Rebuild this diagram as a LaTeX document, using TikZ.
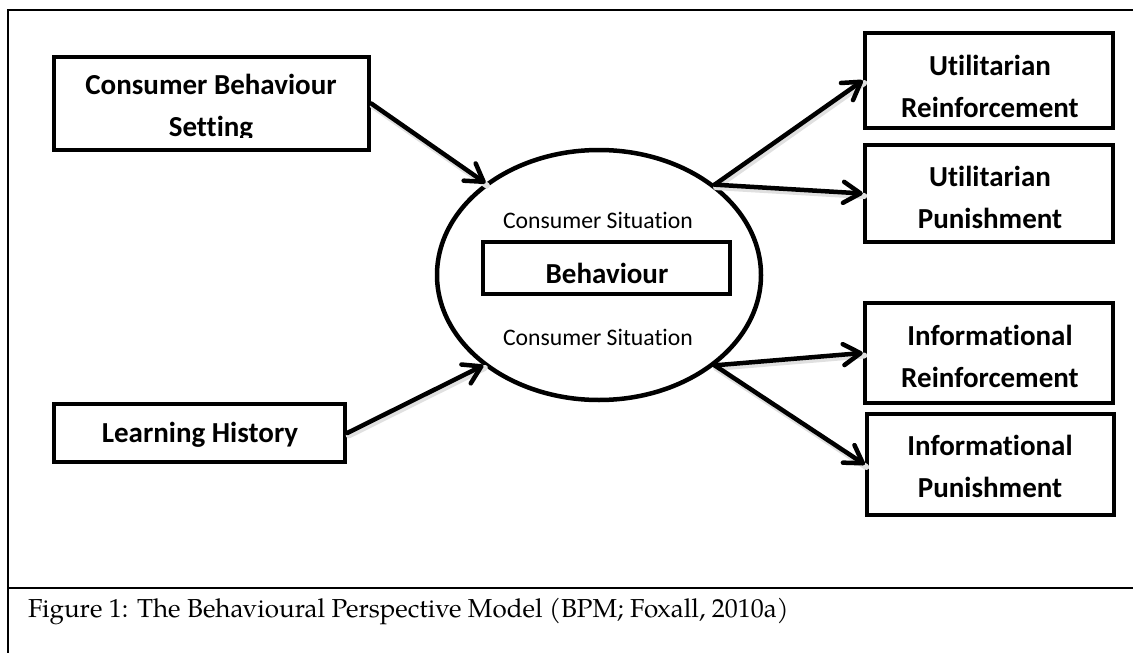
\documentclass[tikz,border=0pt]{standalone}
\usepackage{fontspec}
\usetikzlibrary{shapes.geometric,arrows.meta}
\newfontfamily\carl[Ligatures={NoCommon}]{Carlito}
\newfontfamily\capfont{TeX Gyre Pagella}
\begin{document}
\begin{tikzpicture}[x=1pt,y=-1pt,
  box/.style={draw, line width=4.5pt, inner sep=0pt, rectangle},
  boxtext/.style={align=center, inner sep=0pt, font=\carl\bfseries\fontsize{29}{42}\selectfont},
  sittext/.style={inner sep=0pt, font=\carl\fontsize{23.7}{28}\selectfont},
  shadow/.style={line width=6pt, line cap=round, black!12, transform canvas={shift={(1.5pt,-2.5pt)}}},
  arr/.style={line width=4.5pt, line cap=round, -{Straight Barb[length=17pt,width=21pt,round]}},
  frame/.style={line width=2pt}]
  \useasboundingbox (0,0) rectangle (1133,653);

  % outer frame and caption rule
  \coordinate (ftl) at (8,10);
  \coordinate (ftr) at (1133,10);
  \coordinate (fbl) at (8,653);
  \coordinate (cl) at (8,588);
  \coordinate (cr) at (1133,588);
  \draw[frame] (ftr) -- (ftl) -- (fbl);
  \draw[frame] (cl) -- (cr);

  % central situation with the behaviour box
  \node[draw, ellipse, line width=4.5pt, inner sep=0pt,
        minimum width=324pt, minimum height=250pt] (sit) at (599,275) {};
  \node[box, minimum width=247pt, minimum height=52pt] (beh) at (606.5,268) {};
  \node[boxtext] (behT) at (607,273) {Behaviour};
  \node[sittext] (sitTop) at (598,220) {Consumer Situation};
  \node[sittext] (sitBot) at (598,337) {Consumer Situation};

  % antecedents
  \node[box, minimum width=315pt, minimum height=93pt] (cbs) at (211.5,103.5) {};
  \begin{scope}
    \clip (56,59) rectangle (367,137);
    \node[boxtext] (cbsT) at (211,108) {Consumer Behaviour\\Setting};
  \end{scope}
  \node[box, minimum width=291pt, minimum height=58pt] (lh) at (199.5,433) {};
  \node[boxtext] (lhT) at (200,435) {Learning History};

  % consequences
  \node[box, minimum width=248pt, minimum height=95pt] (ur) at (989,80.5) {};
  \node[boxtext] (urT) at (990,86) {Utilitarian\\Reinforcement};
  \node[box, minimum width=248pt, minimum height=97pt] (up) at (989,193.5) {};
  \node[boxtext] (upT) at (990,197) {Utilitarian\\Punishment};
  \node[box, minimum width=248pt, minimum height=100pt] (ir) at (989,353) {};
  \node[boxtext] (irT) at (990,356) {Informational\\Reinforcement};
  \node[box, minimum width=247pt, minimum height=101pt] (ip) at (990.5,464.5) {};
  \node[boxtext] (ipT) at (990,466) {Informational\\Punishment};

  % connectors, each with a soft shadow underneath
  \foreach \a/\b in {cbs.east/sit.141.6, lh.east/sit.218.5,
                     sit.38.4/ur.west, sit.38.4/up.west,
                     sit.-38.8/ir.west, sit.-38.8/ip.west}{
    \draw[shadow] (\a) -- (\b);
  }
  \draw[arr] (cbs.east) -- (sit.141.6);
  \draw[arr] (lh.east) -- (sit.218.5);
  \draw[arr] (sit.38.4) -- (ur.west);
  \draw[arr] (sit.38.4) -- (up.west);
  \draw[arr] (sit.-38.8) -- (ir.west);
  \draw[arr] (sit.-38.8) -- (ip.west);

  % caption
  \node[anchor=base west, inner sep=0pt, font=\capfont\fontsize{26}{30}\selectfont]
    (cap) at (28,617) {Figure 1: The Behavioural Perspective Model (BPM; Foxall, 2010a)};
\end{tikzpicture}
\end{document}
